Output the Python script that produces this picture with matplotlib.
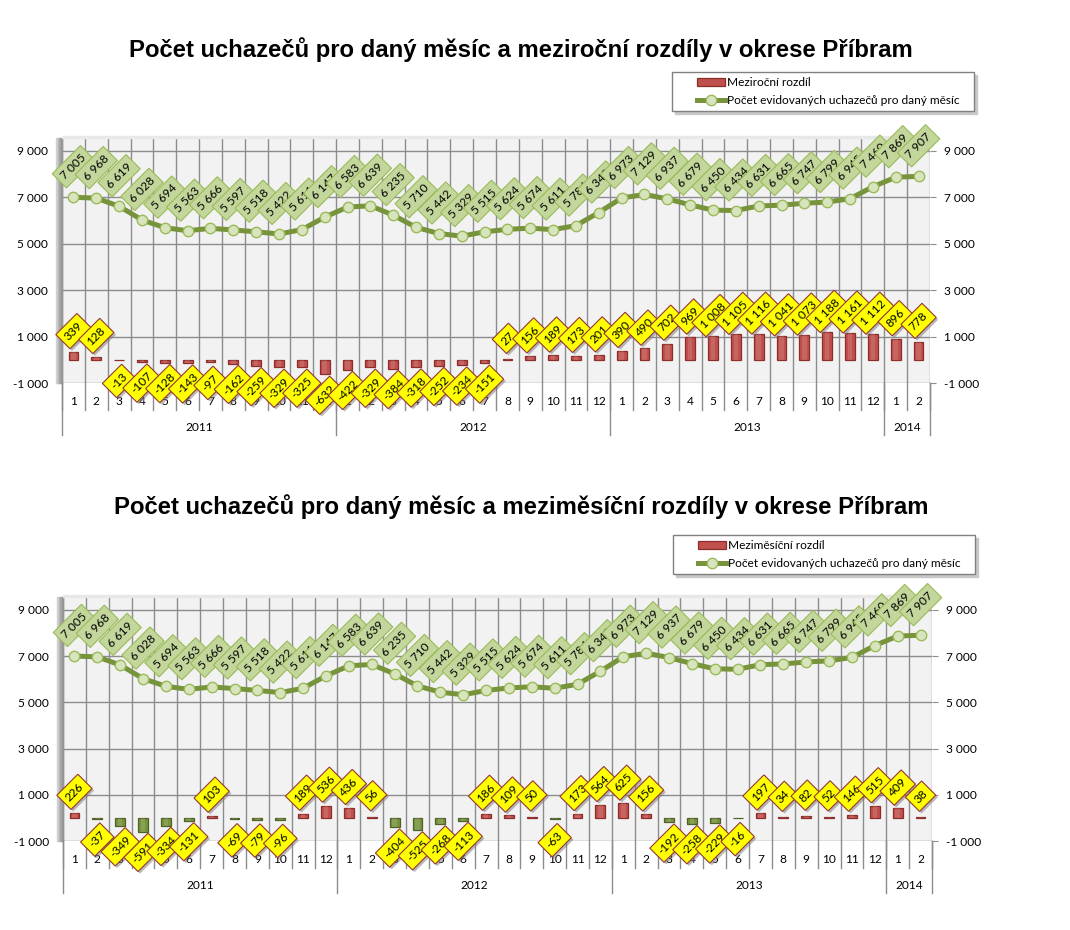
import matplotlib
matplotlib.use("Agg")
import numpy as np
import matplotlib.pyplot as plt
import matplotlib.patches as mpatches
import matplotlib.patheffects as pe
from matplotlib.lines import Line2D
from matplotlib.legend_handler import HandlerLine2D, HandlerPatch
from matplotlib.transforms import blended_transform_factory

plt.rcParams['font.family'] = ['Lato', 'DejaVu Sans']

# data
mesice = [1, 2, 3, 4, 5, 6, 7, 8, 9, 10, 11, 12,
          1, 2, 3, 4, 5, 6, 7, 8, 9, 10, 11, 12,
          1, 2, 3, 4, 5, 6, 7, 8, 9, 10, 11, 12,
          1, 2]
roky = ["2011", "2012", "2013", "2014"]
roky_pocet = [12, 12, 12, 2]

pocet = [7005, 6968, 6619, 6028, 5694, 5563, 5666, 5597, 5518, 5422, 5611, 6147,
         6583, 6639, 6235, 5710, 5442, 5329, 5515, 5624, 5674, 5611, 5784, 6348,
         6973, 7129, 6937, 6679, 6450, 6434, 6631, 6665, 6747, 6799, 6945, 7460,
         7869, 7907]

mezirocni = [339, 128, -13, -107, -128, -143, -97, -162, -259, -329, -325, -632,
             -422, -329, -384, -318, -252, -234, -151, 27, 156, 189, 173, 201,
             390, 490, 702, 969, 1008, 1105, 1116, 1041, 1073, 1188, 1161, 1112,
             896, 778]

mezimesicni = [226, -37, -349, -591, -334, -131, 103, -69, -79, -96, 189, 536,
               436, 56, -404, -525, -268, -113, 186, 109, 50, -63, 173, 564,
               625, 156, -192, -258, -229, -16, 197, 34, 82, 52, 146, 515,
               409, 38]

W, H = 1070, 930
RED = '#c0504d'
RED_EDGE = '#8c2d2a'
GREEN_BAR = '#77933c'
GREEN_EDGE = '#4f6228'
GRID = '#8c8c8c'
FS = 8.6


def fmt(v):
    s = "{:,}".format(abs(v)).replace(",", " ")
    return ("-" if v < 0 else "") + s


# legend handles drawn in the right part of the handle box (Excel-like indent)
class ShiftLine(HandlerLine2D):
    def get_xdata(self, legend, xdescent, ydescent, width, height, fontsize):
        a = -xdescent + width * 0.42
        b = -xdescent + width
        return np.array([a, b]), np.array([(a + b) / 2])


def shift_patch(legend, orig_handle, xdescent, ydescent, width, height, fontsize):
    return mpatches.Rectangle((-xdescent + width * 0.42, -ydescent), width * 0.58, height)


def graf(ax_px, diffs, neg_green, title, title_y, leg_label, leg_px):
    x0, y0, x1, y1 = ax_px
    ax = fig.add_axes([x0 / W, 1 - y1 / H, (x1 - x0) / W, (y1 - y0) / H])
    ax.set_facecolor('#f2f2f2')
    n = len(pocet)
    x = list(range(n))
    ax.set_xlim(-0.5, n - 0.5)
    ax.set_ylim(-1000, 9560)
    for s in ax.spines.values():
        s.set_visible(False)

    # grid
    yt = [-1000, 1000, 3000, 5000, 7000, 9000]
    ax.set_yticks(yt)
    ax.set_yticklabels([fmt(t) for t in yt])
    ax.yaxis.grid(True, color=GRID, lw=1)
    for k in range(n + 1):
        ax.axvline(k - 0.5, color=GRID, lw=1, zorder=0.5)
    ax.set_axisbelow(True)
    ax.tick_params(axis='y', left=True, right=True, labelleft=True, labelright=True,
                   length=4, color=GRID, pad=6, labelsize=FS)
    ax.tick_params(axis='x', bottom=False, labelbottom=False)

    # left edge shadow
    for j, c in enumerate(['#d0d0d0', '#bdbdbd', '#a8a8a8', '#969696']):
        ax.add_patch(mpatches.Rectangle((-0.0065 + j * 0.0016, 0), 0.0017, 1.0,
                                        transform=ax.transAxes, color=c,
                                        clip_on=False, zorder=0.6))
    ax.add_patch(mpatches.Rectangle((0, 1.0), 1.0, 0.008, transform=ax.transAxes,
                                    color='#e8e8e8', clip_on=False, zorder=0.6))

    # bars
    cols = []
    edges = []
    for v in diffs:
        if v < 0 and neg_green:
            cols.append(GREEN_BAR)
            edges.append(GREEN_EDGE)
        else:
            cols.append(RED)
            edges.append(RED_EDGE)
    ax.bar(x, diffs, width=0.43, color=cols, edgecolor=edges, linewidth=0.9, zorder=3)
    ax.bar(x, diffs, width=0.2, color='white', alpha=0.12, linewidth=0, zorder=3.1)

    # line
    ax.plot(x, pocet, color='#77933c', lw=3.6, marker='o', ms=7.5,
            mfc='#d7e4bd', mec='#9bbb59', mew=1.0, zorder=4)

    # labels
    for i, v in enumerate(diffs):
        off = 15 if v >= 0 else -15
        t = ax.annotate(fmt(v), (i, v), xytext=(0, off), textcoords='offset points',
                        rotation=45, ha='center', va='center', fontsize=FS,
                        bbox=dict(boxstyle='square,pad=0.38', fc='#ffff00',
                                  ec='#953735', lw=0.8),
                        zorder=6 + i * 0.01, annotation_clip=False)
        t.get_bbox_patch().set_path_effects([
            pe.SimplePatchShadow(offset=(1.5, -1.5), shadow_rgbFace='#777777', alpha=0.5),
            pe.Normal()])
    for i, v in enumerate(pocet):
        ax.annotate(fmt(v), (i, v), xytext=(0, 22), textcoords='offset points',
                    rotation=45, ha='center', va='center', fontsize=FS,
                    bbox=dict(boxstyle='square,pad=0.38', fc='#c3d69b',
                              ec='#9bbb59', lw=0.8),
                    zorder=5 + i * 0.01, annotation_clip=False)

    # two-level category axis
    hpx = y1 - y0
    tr = blended_transform_factory(ax.transData, ax.transAxes)
    for i, m in enumerate(mesice):
        ax.text(i, -18 / hpx, str(m), transform=tr, ha='center', va='center',
                fontsize=FS)
    for k in range(n + 1):
        ax.plot([k - 0.5, k - 0.5], [0, -27 / hpx], transform=tr, color=GRID,
                lw=1, clip_on=False)
    start = 0
    ax.plot([-0.5, -0.5], [0, -52 / hpx], transform=tr, color=GRID, lw=1, clip_on=False)
    for r, c in zip(roky, roky_pocet):
        ax.text(start + (c - 1) / 2, -44 / hpx, r, transform=tr, ha='center',
                va='center', fontsize=FS)
        start += c
        ax.plot([start - 0.5, start - 0.5], [0, -52 / hpx], transform=tr,
                color=GRID, lw=1, clip_on=False)

    fig.text(521 / W, 1 - title_y / H, title, ha='center', va='center',
             fontsize=17.2, fontweight='bold', family='Liberation Sans')

    bar_h = mpatches.Patch(facecolor=RED, edgecolor=RED_EDGE, lw=0.9)
    line_h = Line2D([], [], color='#77933c', lw=3.6, marker='o', ms=7.5,
                    mfc='#d7e4bd', mec='#9bbb59')
    leg = ax.legend([bar_h, line_h],
                    [leg_label + '   ', 'Počet evidovaných uchazečů pro daný měsíc   '],
                    handler_map={Line2D: ShiftLine(),
                                 mpatches.Patch: HandlerPatch(patch_func=shift_patch)},
                    loc='upper left', bbox_to_anchor=(leg_px[0] / W, 1 - leg_px[1] / H),
                    bbox_transform=fig.transFigure, fontsize=FS, frameon=True,
                    fancybox=False, edgecolor='#808080', borderpad=0.45,
                    handlelength=4.0, handleheight=0.6, handletextpad=0.15,
                    labelspacing=0.55, borderaxespad=0,
                    shadow={'color': '#c8c8c8', 'alpha': 1})
    leg.get_frame().set_linewidth(1)
    leg.set_zorder(10)
    return ax


fig = plt.figure(figsize=(W / 100, H / 100), dpi=100)
graf((62, 138, 930, 383), mezirocni, False,
     "Počet uchazečů pro daný měsíc a meziroční rozdíly v okrese Příbram", 50,
     'Meziroční rozdíl', (672, 72))
graf((63, 597, 932, 841), mezimesicni, True,
     "Počet uchazečů pro daný měsíc a meziměsíční rozdíly v okrese Příbram", 507,
     'Meziměsíční rozdíl', (673, 535))

fig.savefig("out.png", dpi=100)
